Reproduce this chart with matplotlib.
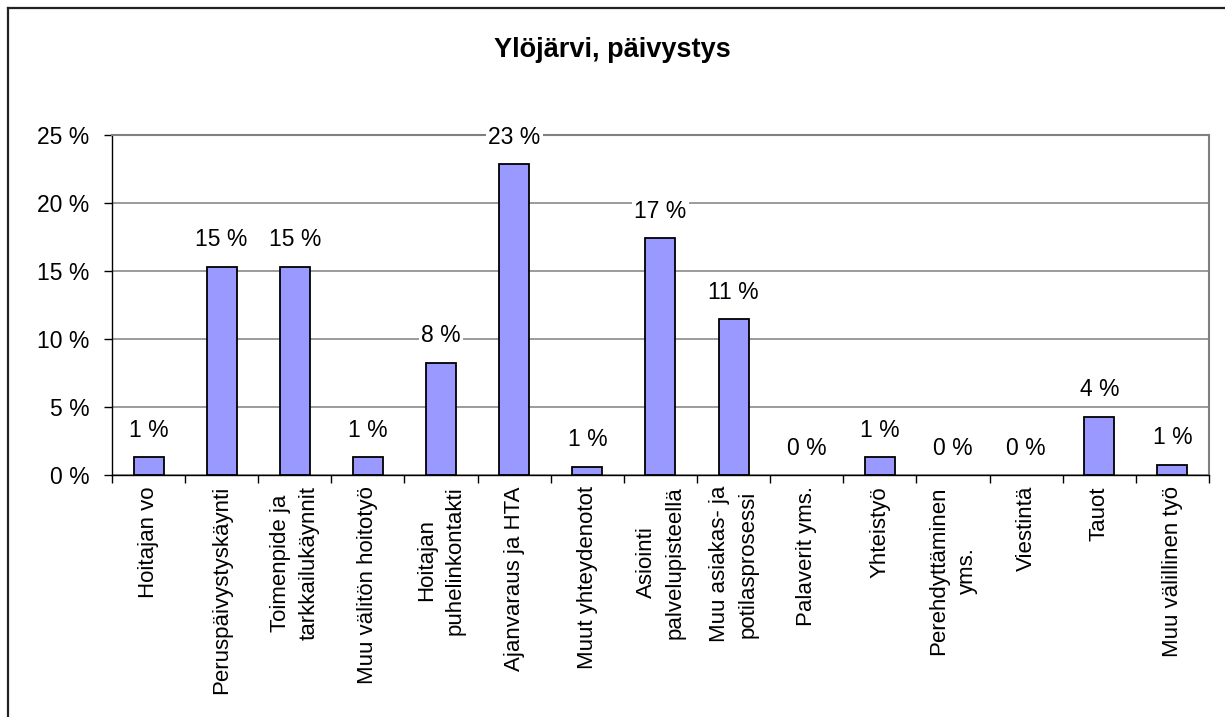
import matplotlib
matplotlib.use("Agg")
import matplotlib.pyplot as plt
from matplotlib.lines import Line2D
import numpy as np

plt.rcParams['font.family'] = ['Liberation Sans', 'DejaVu Sans']

# data (percent)
categories = [
    "Hoitajan vo",
    "Peruspäivystyskäynti",
    "Toimenpide ja\ntarkkailukäynnit",
    "Muu välitön hoitotyö",
    "Hoitajan\npuhelinkontakti",
    "Ajanvaraus ja HTA",
    "Muut yhteydenotot",
    "Asiointi\npalvelupisteellä",
    "Muu asiakas- ja\npotilasprosessi",
    "Palaverit yms.",
    "Yhteistyö",
    "Perehdyttäminen\nyms.",
    "Viestintä",
    "Tauot",
    "Muu välillinen työ",
]
values = [1.3, 15.3, 15.3, 1.3, 8.24, 22.85, 0.61, 17.4, 11.45, 0.0, 1.3, 0.0, 0.0, 4.29, 0.74]
yticks = [0, 5, 10, 15, 20, 25]

fig = plt.figure(figsize=(12.25, 7.17), dpi=100)
ax = fig.add_axes([0.0914, 0.3375, 0.8955, 0.4742])

x = np.arange(len(categories))
edges = ["black" if v > 0 else "none" for v in values]
ax.bar(x, values, width=0.41, color="#9999FF", edgecolor=edges, linewidth=1.3, zorder=3)

for xi, v in zip(x, values):
    ax.annotate(f"{v:.0f} %", (xi, v), xytext=(0, 27), textcoords="offset pixels",
                ha="center", va="center", fontsize=16.5, zorder=4,
                bbox=dict(boxstyle="square,pad=0.1", fc="white", ec="none"))

ax.set_xlim(-0.5, len(categories) - 0.5)
ax.set_ylim(0, 25)
ax.set_yticks(yticks)
ax.set_yticklabels([f"{t} %" for t in yticks], fontsize=16.5)
ax.yaxis.grid(True, color="#808080", linewidth=1.1, zorder=0)
ax.set_axisbelow(True)

ax.set_xticks(x)
ax.set_xticklabels(categories, rotation=90, fontsize=16, ha="center", va="top",
                   multialignment="center", linespacing=1.5)
ax.tick_params(axis="x", which="major", length=0, pad=8)
ax.set_xticks(np.arange(-0.5, len(categories)), minor=True)
ax.tick_params(axis="x", which="minor", length=6, width=1, color="black")
ax.tick_params(axis="y", length=6, width=1, pad=10)

for s in ["top", "right"]:
    ax.spines[s].set_color("#808080")
    ax.spines[s].set_linewidth(1.5)
for s in ["left", "bottom"]:
    ax.spines[s].set_color("black")
    ax.spines[s].set_linewidth(1.0)

fig.text(0.5, 1 - 50 / 717, "Ylöjärvi, päivystys", ha="center", va="center",
         fontsize=19.5, fontweight="bold")

# outer chart frame (only top and left edges visible)
fx, fy = 8 / 1225, 1 - 8 / 717
fig.add_artist(Line2D([fx, 1.0], [fy, fy], color="#222222", lw=1.6, transform=fig.transFigure))
fig.add_artist(Line2D([fx, fx], [0.0, fy], color="#222222", lw=1.6, transform=fig.transFigure))

fig.savefig("out.png", dpi=100)
